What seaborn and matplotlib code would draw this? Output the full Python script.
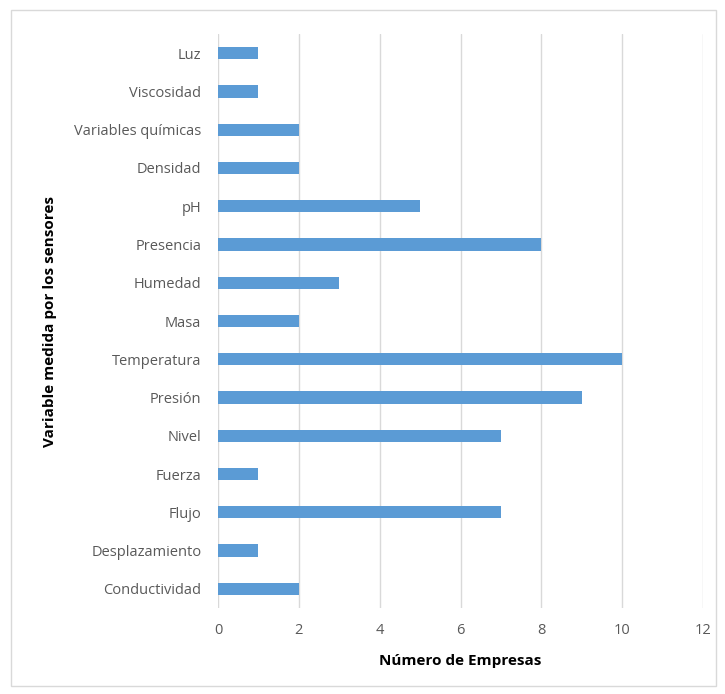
import pandas as pd
import matplotlib.pyplot as plt
import seaborn as sns
from matplotlib.patches import Rectangle

sns.set_theme(style='whitegrid')
plt.rcParams['font.family'] = ['Open Sans', 'DejaVu Sans']

variables = ['Luz', 'Viscosidad', 'Variables químicas', 'Densidad', 'pH', 'Presencia',
             'Humedad', 'Masa', 'Temperatura', 'Presión', 'Nivel', 'Fuerza', 'Flujo',
             'Desplazamiento', 'Conductividad']
empresas = [1, 1, 2, 2, 5, 8, 3, 2, 10, 9, 7, 1, 7, 1, 2]
xticks = [0, 2, 4, 6, 8, 10, 12]

df = pd.DataFrame({'Variable': variables, 'Empresas': empresas})

fig = plt.figure(figsize=(7.25, 6.94), dpi=100)
ax = fig.add_axes([218/725, 1-608/694, 485/725, 574/694])

sns.barplot(data=df, x='Empresas', y='Variable', orient='h', color='#5B9BD5',
            width=0.32, saturation=1, linewidth=0, ax=ax)

ax.set_xlim(0, 12)
ax.set_xticks(xticks)
ax.set_ylim(len(variables) - 0.5, -0.5)
ax.grid(axis='x', color='#D9D9D9', linewidth=1)
ax.grid(axis='y', visible=False)
for s in ax.spines.values():
    s.set_visible(False)
ax.tick_params(axis='both', length=0, labelsize=10.5, labelcolor='#595959')
ax.tick_params(axis='x', pad=11)
ax.tick_params(axis='y', pad=12)
ax.set_xlabel('Número de Empresas', fontsize=11, fontweight='bold', color='black', labelpad=11)
ax.set_ylabel('Variable medida por los sensores', fontsize=11, fontweight='bold', color='black', labelpad=12)

fig.patches.append(Rectangle((11/725, 1-686/694), 705/725, 676/694, transform=fig.transFigure,
                             fill=False, edgecolor='#D9D9D9', linewidth=1))

fig.savefig('out.png', dpi=100)
